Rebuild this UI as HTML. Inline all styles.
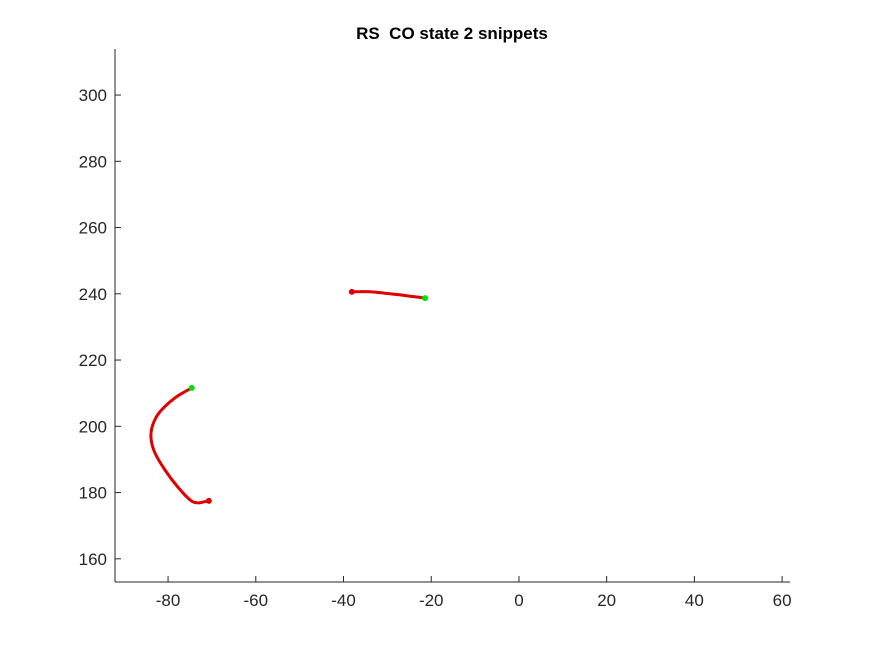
<!DOCTYPE html>
<html><head><meta charset="utf-8"><style>
body{margin:0;background:#fff;}
svg{display:block;font-family:"Liberation Sans",Arial,sans-serif;}
</style></head><body>
<svg id="chart" width="875" height="656" viewBox="0 0 875 656" xmlns="http://www.w3.org/2000/svg">
<text x="452" y="39" text-anchor="middle" font-size="17" font-weight="bold" fill="#000" style="white-space:pre" xml:space="preserve">RS  CO state 2 snippets</text>
<g id="axes"></g>
<g id="plot"></g>
</svg>
<script>
const xTicks=[-80,-60,-40,-20,0,20,40,60];
const yTicks=[160,180,200,220,240,260,280,300];
const snippet1X=[-74.6,-78.4,-81.9,-83.5,-83.9,-83.0,-80.7,-77.8,-75.0,-73.4,-71.8,-70.7];
const snippet1Y=[211.6,208.6,204.3,200.4,196.5,192.0,186.8,181.7,177.8,176.9,177.2,177.5];
const snippet2X=[-21.4,-24.9,-29.4,-34.0,-38.1];
const snippet2Y=[238.7,239.3,240.0,240.6,240.6];
const xMin=-92.1,xMax=61.8,yMin=153,yMax=313.9;
const L=115,R=790,T=49,B=582;
const sx=v=>L+(v-xMin)/(xMax-xMin)*(R-L);
const sy=v=>B-(v-yMin)/(yMax-yMin)*(B-T);
const NS="http://www.w3.org/2000/svg";
const ax=document.getElementById('axes'),pl=document.getElementById('plot');
function mk(t,a,p){const e=document.createElementNS(NS,t);for(const k in a)e.setAttribute(k,a[k]);p.appendChild(e);return e;}
let e=mk('line',{x1:L,y1:B,x2:R,y2:B,stroke:'#262626','stroke-width':1},ax);


e=mk('line',{x1:L,y1:T,x2:L,y2:B,stroke:'#262626','stroke-width':1},ax);


xTicks.forEach(v=>{const x=sx(v);
 let t=mk('line',{x1:x,y1:B,x2:x,y2:B-6,stroke:'#262626'},ax);
 
 
 let l=mk('text',{x:x,y:B+24,'text-anchor':'middle','font-size':17,fill:'#262626'},ax);l.textContent=v;
 
 
});
yTicks.forEach(v=>{const y=sy(v);
 let t=mk('line',{x1:L,y1:y,x2:L+6,y2:y,stroke:'#262626'},ax);
 
 
 let l=mk('text',{x:L-8,y:y+6,'text-anchor':'end','font-size':17,fill:'#262626'},ax);l.textContent=v;
 
 
});
function drawSnippet(xs,ys,name){
 const P=xs.map((v,i)=>[sx(v),sy(ys[i])]);
 let d='M'+P[0][0].toFixed(1)+','+P[0][1].toFixed(1);
 for(let i=0;i<P.length-1;i++){
  const p0=P[Math.max(i-1,0)],p1=P[i],p2=P[i+1],p3=P[Math.min(i+2,P.length-1)];
  const c1=[p1[0]+(p2[0]-p0[0])/6,p1[1]+(p2[1]-p0[1])/6];
  const c2=[p2[0]-(p3[0]-p1[0])/6,p2[1]-(p3[1]-p1[1])/6];
  d+=' C'+c1.map(v=>v.toFixed(1)).join(',')+' '+c2.map(v=>v.toFixed(1)).join(',')+' '+p2.map(v=>v.toFixed(1)).join(',');
 }
 let p=mk('path',{d:d,fill:'none',stroke:'#e00000','stroke-width':3,'stroke-linejoin':'round','stroke-linecap':'round'},pl);
 
 
 let n=xs.length-1;
 let r=mk('circle',{cx:sx(xs[n]),cy:sy(ys[n]),r:3,fill:'#e00000'},pl);
 
 
 let g=mk('circle',{cx:sx(xs[0]),cy:sy(ys[0]),r:3,fill:'#00e000'},pl);
 
 
}
drawSnippet(snippet1X,snippet1Y,'snippet-1');
drawSnippet(snippet2X,snippet2Y,'snippet-2');
</script>
</body></html>
